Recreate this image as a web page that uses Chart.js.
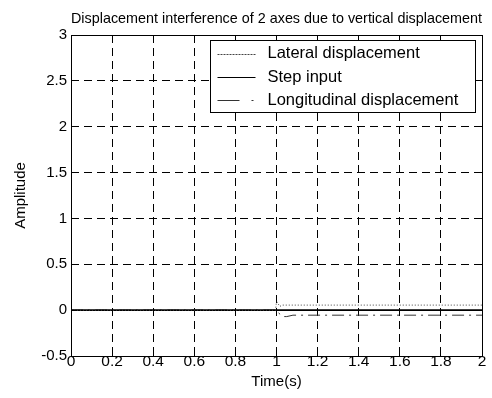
<!DOCTYPE html>
<html><head><meta charset="utf-8">
<script src="https://cdn.jsdelivr.net/npm/chart.js@4/dist/chart.umd.min.js"></script>
<style>html,body{margin:0;padding:0;background:#fff}canvas{display:block}</style>
</head><body>
<canvas id="c" width="492" height="398"></canvas>
<script>
const chartTitle = 'Displacement interference of 2 axes due to vertical displacement';
const xAxisTitle = 'Time(s)';
const yAxisTitle = 'Amplitude';
const xTicks = [0, 0.2, 0.4, 0.6, 0.8, 1, 1.2, 1.4, 1.6, 1.8, 2];
const xTickLabels = ['0', '0.2', '0.4', '0.6', '0.8', '1', '1.2', '1.4', '1.6', '1.8', '2'];
const yTicks = [-0.5, 0, 0.5, 1, 1.5, 2, 2.5, 3];
const yTickLabels = ['-0.5', '0', '0.5', '1', '1.5', '2', '2.5', '3'];
const seriesNames = ['Lateral displacement', 'Step input', 'Longitudinal displacement'];

const lateralTime   = [0, 0.995, 1.0, 1.005, 1.015, 1.03, 2.0];
const lateralValues = [0, 0, 0.09, 0.085, 0.04, 0.055, 0.055];
const stepTime      = [0, 2.0];
const stepValues    = [0, 0];
const longTime      = [0, 1.0, 1.01, 1.03, 1.05, 1.08, 2.0];
const longValues    = [0, 0, -0.03, -0.07, -0.07, -0.055, -0.055];

const FAMILY = '"Liberation Sans", Arial, Helvetica, sans-serif';
const pts = (t, v) => t.map((x, i) => ({x: x, y: v[i]}));

const frameLegend = {
  id: 'frameLegend',
  afterDraw(chart) {
    const {ctx, chartArea: a, scales} = chart;
    const al = p => Math.round(p - 0.5) + 0.5;
    const L = al(a.left), R = al(a.right), T = al(a.top), B = al(a.bottom);
    ctx.save();
    ctx.strokeStyle = '#000';
    ctx.lineWidth = 1;
    ctx.setLineDash([]);
    ctx.strokeRect(L, T, R - L, B - T);
    const tl = 5;
    ctx.beginPath();
    scales.x.ticks.forEach(t => {
      const px = al(scales.x.getPixelForValue(t.value));
      ctx.moveTo(px, B); ctx.lineTo(px, B - tl);
      ctx.moveTo(px, T); ctx.lineTo(px, T + tl);
    });
    scales.y.ticks.forEach(t => {
      const py = al(scales.y.getPixelForValue(t.value));
      ctx.moveTo(L, py); ctx.lineTo(L + tl, py);
      ctx.moveTo(R, py); ctx.lineTo(R - tl, py);
    });
    ctx.stroke();

    // legend
    ctx.font = '16.5px ' + FAMILY;
    const ds = chart.data.datasets;
    let maxW = 0;
    ds.forEach(d => { maxW = Math.max(maxW, ctx.measureText(d.label).width); });
    const boxR = al(a.right - 7), boxT = al(a.top + 5);
    const boxL = al(boxR - (57 + maxW + 17));
    const rowH = 23.3, boxH = 72;
    ctx.fillStyle = '#fff';
    ctx.fillRect(boxL, boxT, boxR - boxL, boxH);
    ctx.strokeStyle = '#000';
    ctx.strokeRect(boxL, boxT, boxR - boxL, boxH);
    ds.forEach((d, i) => {
      const y = boxT + 13.3 + i * rowH;
      ctx.save();
      ctx.strokeStyle = d.borderColor;
      ctx.lineWidth = Math.min(d.borderWidth, 1);
      ctx.setLineDash(d.legendDash || d.borderDash || []);
      ctx.beginPath();
      ctx.moveTo(boxL + 7, Math.round(y) + 0.5);
      ctx.lineTo(boxL + 45, Math.round(y) + 0.5);
      ctx.stroke();
      ctx.restore();
      ctx.fillStyle = '#000';
      ctx.textBaseline = 'middle';
      ctx.textAlign = 'left';
      ctx.fillText(d.label, boxL + 57, y);
    });
    ctx.restore();
  }
};

new Chart(document.getElementById('c'), {
  type: 'line',
  data: {
    datasets: [
      {label: seriesNames[0], data: pts(lateralTime, lateralValues), borderColor: '#444', borderWidth: 1, borderDash: [1, 2], legendDash: [2, 1], pointRadius: 0, tension: 0, fill: false},
      {label: seriesNames[1], data: pts(stepTime, stepValues), borderColor: '#000', borderWidth: 1.6, pointRadius: 0, tension: 0, fill: false},
      {label: seriesNames[2], data: pts(longTime, longValues), borderColor: '#333', borderWidth: 1, borderDash: [12, 5, 2, 5], legendDash: [22, 12, 2, 10], pointRadius: 0, tension: 0, fill: false}
    ]
  },
  options: {
    responsive: false,
    animation: false,
    events: [],
    layout: {padding: {left: 0, right: 10, top: 0, bottom: 0}},
    plugins: {
      legend: {display: false},
      tooltip: {enabled: false},
      title: {
        display: true, text: chartTitle, color: '#000', align: 'end', fullSize: false,
        font: {family: FAMILY, size: 14.5, weight: 'normal'},
        padding: {top: 10, bottom: 7.6}
      }
    },
    scales: {
      x: {
        type: 'linear', min: 0, max: 2,
        afterBuildTicks: s => { s.ticks = xTicks.map(v => ({value: v})); },
        afterFit: s => { s.height = 42; },
        ticks: {
          callback: v => xTickLabels[xTicks.indexOf(v)],
          color: '#000', font: {family: FAMILY, size: 15.5}, padding: -4,
          maxRotation: 0, autoSkip: false
        },
        grid: {color: '#000', lineWidth: 1, drawTicks: false},
        border: {display: false, dash: [8, 5]},
        title: {display: true, text: xAxisTitle, color: '#000', font: {family: FAMILY, size: 15}, padding: {top: 0, bottom: 7}}
      },
      y: {
        type: 'linear', min: -0.5, max: 3,
        afterBuildTicks: s => { s.ticks = yTicks.map(v => ({value: v})); },
        afterFit: s => { s.width = 71; },
        ticks: {
          callback: v => yTickLabels[yTicks.indexOf(v)],
          color: '#000', font: {family: FAMILY, size: 15}, padding: 4, autoSkip: false
        },
        grid: {color: '#000', lineWidth: 1, drawTicks: false},
        border: {display: false, dash: [8, 5]},
        title: {display: true, text: yAxisTitle, color: '#000', font: {family: FAMILY, size: 15}, padding: {top: 12, bottom: 0}}
      }
    }
  },
  plugins: [frameLegend]
});
</script>
</body></html>
